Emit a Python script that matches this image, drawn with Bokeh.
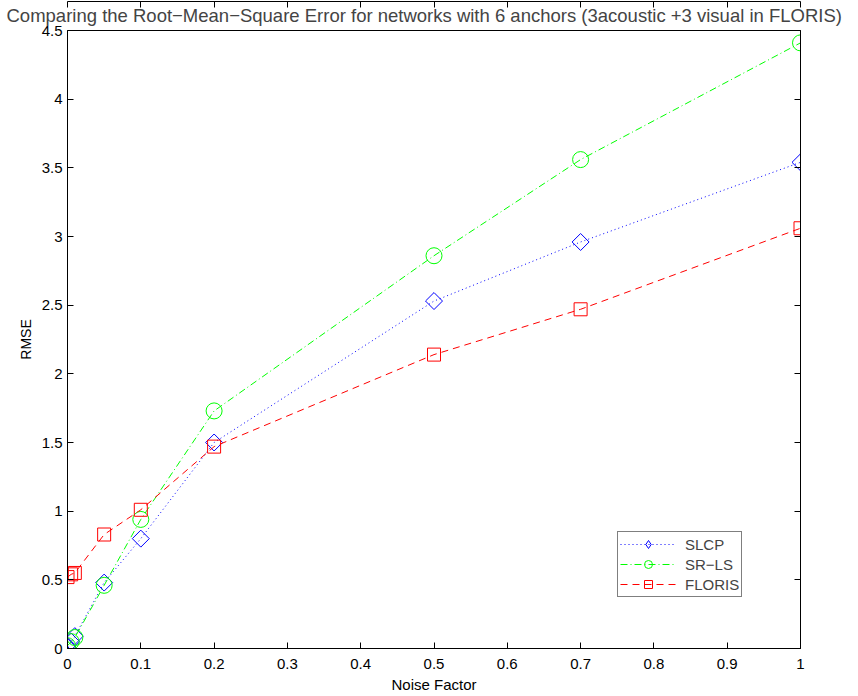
import math
from bokeh.plotting import figure
from bokeh.models import Range1d, LinearAxis, FixedTicker, Legend, LegendItem, Title
from bokeh.embed import file_html
from bokeh.resources import INLINE

noise = [0, 0.005, 0.01, 0.05, 0.1, 0.2, 0.5, 0.7, 1.0]
slcp = [0.01, 0.05, 0.09, 0.48, 0.80, 1.50, 2.53, 2.96, 3.54]
srls = [0.02, 0.05, 0.08, 0.46, 0.94, 1.73, 2.86, 3.56, 4.41]
floris = [0.52, 0.54, 0.55, 0.83, 1.01, 1.47, 2.14, 2.47, 3.06]

x_ticks = [0, 0.1, 0.2, 0.3, 0.4, 0.5, 0.6, 0.7, 0.8, 0.9, 1.0]
x_labels = ["0", "0.1", "0.2", "0.3", "0.4", "0.5", "0.6", "0.7", "0.8", "0.9", "1"]
y_ticks = [0, 0.5, 1, 1.5, 2, 2.5, 3, 3.5, 4, 4.5]
y_labels = ["0", "0.5", "1", "1.5", "2", "2.5", "3", "3.5", "4", "4.5"]

FONT = "Liberation Sans"

p = figure(width=858, height=696, output_backend="svg", toolbar_location=None,
           x_range=Range1d(0, 1), y_range=Range1d(0, 4.5),
           min_border_left=67, min_border_right=58, min_border_top=30, min_border_bottom=48)
p.title = None
p.add_layout(Title(text="Comparing the Root\u2212Mean\u2212Square Error for networks with 6 anchors (3acoustic +3 visual in FLORIS)",
                   align="left", vertical_align="top", text_font=FONT, text_font_size="18.5px",
                   text_font_style="normal", standoff=6, offset=-61), "above")
p.xgrid.visible = False
p.ygrid.visible = False
p.outline_line_color = "black"
p.outline_line_width = 1
p.background_fill_color = "white"
p.border_fill_color = "white"

def style_axis(ax, ticks, labels, show_labels=True):
    ax.ticker = FixedTicker(ticks=ticks)
    ax.major_label_overrides = {t: l for t, l in zip(ticks, labels)}
    ax.major_tick_in = 6
    ax.major_tick_out = 0
    ax.minor_tick_in = 0
    ax.minor_tick_out = 0
    ax.axis_line_color = "black"
    ax.major_tick_line_color = "black"
    ax.major_label_text_font = FONT
    ax.major_label_text_font_size = "15px"
    ax.major_label_text_color = "black"
    ax.axis_label_text_font = FONT
    ax.axis_label_text_font_size = "15px"
    ax.axis_label_text_font_style = "normal"
    ax.axis_label_text_color = "black"
    if not show_labels:
        ax.major_label_text_font_size = "0px"
        ax.major_label_text_alpha = 0
        ax.major_label_standoff = 0

style_axis(p.xaxis[0], x_ticks, x_labels)
style_axis(p.yaxis[0], y_ticks, y_labels)
p.xaxis[0].axis_label = "Noise Factor"
p.xaxis[0].axis_label_standoff = 4
p.xaxis[0].major_label_standoff = 10
p.yaxis[0].axis_label = "RMSE"
p.yaxis[0].axis_label_text_font_size = "14px"
p.yaxis[0].axis_label_standoff = 5
p.yaxis[0].major_label_standoff = 5

top = LinearAxis()
right = LinearAxis()
style_axis(top, x_ticks, x_labels, show_labels=False)
style_axis(right, y_ticks, y_labels, show_labels=False)
p.add_layout(top, "above")
p.add_layout(right, "right")

l1 = p.line(noise, slcp, line_color="blue", line_dash="1 3", line_width=1)
m1 = p.scatter(noise, slcp, marker="square", angle=math.pi / 4, size=12, fill_color=None,
               line_color="blue", line_width=1)
# key-only glyph (NaN position, never drawn in the plot) so the legend shows a diamond
m1_key = p.scatter(x=[float("nan")], y=[float("nan")], marker="diamond", size=12, fill_color=None,
                   line_color="blue", line_width=1)
l2 = p.line(noise, srls, line_color="#00ff00", line_dash="7 3 1 3", line_width=1)
m2 = p.scatter(noise, srls, marker="circle", size=16, fill_color=None, line_color="#00ff00", line_width=1)
l3 = p.line(noise, floris, line_color="red", line_dash="7 5", line_width=1)
m3 = p.scatter(noise, floris, marker="square", size=13, fill_color=None, line_color="red", line_width=1)

legend = Legend(items=[
    LegendItem(label="SLCP", renderers=[l1, m1_key]),
    LegendItem(label="SR\u2212LS", renderers=[l2, m2]),
    LegendItem(label="FLORIS", renderers=[l3, m3]),
], location=(550, 51))
legend.label_text_font = FONT
legend.label_text_font_size = "15px"
legend.border_line_color = "black"
legend.border_line_width = 1
legend.glyph_width = 56
legend.glyph_height = 20
legend.label_height = 20
legend.label_width = 54
legend.spacing = 0
legend.padding = 2
legend.margin = 0
legend.label_standoff = 9
legend.background_fill_alpha = 1
p.add_layout(legend, "center")

open("out.html", "w").write(file_html(p, INLINE))
